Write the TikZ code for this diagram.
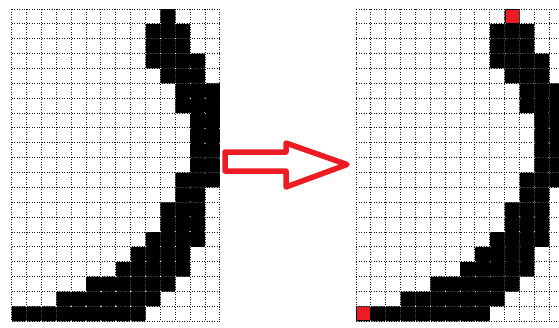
\documentclass[tikz,border=0pt]{standalone}
\usetikzlibrary{positioning}
\definecolor{paintred}{RGB}{237,28,36}
\tikzstyle{gridline}=[black!90, line width=1pt, dash pattern=on 1pt off 1.5pt]
\tikzstyle{pixel}=[fill=black, rounded corners=1.2pt]
\tikzstyle{endpix}=[fill=paintred]
\tikzstyle{hollowarrow}=[draw=paintred, line width=5.5pt, line join=round]
\newcommand{\cs}{14.87}
% one 14x21 pixel grid with the stroke, left edge at #1
\newcommand{\pixgrid}[1]{
  \foreach \c in {0,...,14}
    \draw[gridline] (#1+\c*\cs,9) -- (#1+\c*\cs,9+21*\cs);
  \foreach \r in {0,...,21}
    \draw[gridline] (#1,9+\r*\cs) -- (#1+14*\cs,9+\r*\cs);
  \foreach \r/\a/\b in {0/10/10, 1/9/11, 2/9/11, 3/9/12, 4/10/12, 5/11/13, 6/11/13,
      7/12/13, 8/12/13, 9/12/13, 10/12/13, 11/11/13, 12/11/12, 13/10/12, 14/10/12,
      15/9/12, 16/8/11, 17/7/11, 18/5/10, 19/3/9, 20/0/8}
    \foreach \c in {\a,...,\b}
      \fill[pixel] (#1+\c*\cs,9+\r*\cs) rectangle ++(\cs,\cs);
}

\begin{document}
\begin{tikzpicture}[x=1pt, y=-1pt]
  \useasboundingbox (0,0) rectangle (559,327);
  \clip (0,0) rectangle (559,327);
  \fill[white] (0,0) rectangle (559,327);
  % before
  \pixgrid{11.7}
  % after, with the two end points
  \pixgrid{356}
  \fill[endpix] (356+10*\cs+0.8,9.8) rectangle ++(\cs-1.6,\cs-1.6);
  \fill[endpix] (356+0.8,9+20*\cs+0.8) rectangle ++(\cs-1.6,\cs-1.6);
  % arrow between them
  \draw[hollowarrow] (225,152) -- (286,152) -- (286,143) -- (347,164.5)
    -- (286,187) -- (286,171) -- (225,171) -- cycle;
\end{tikzpicture}
\end{document}
